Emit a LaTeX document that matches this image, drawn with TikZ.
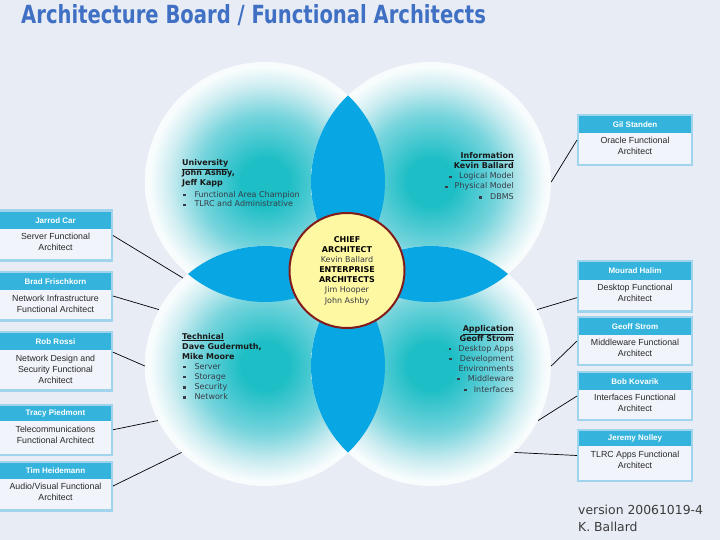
\documentclass[tikz,border=0pt]{standalone}
\usepackage{fontspec}
\setmainfont{DejaVu Sans}
\newfontfamily\boxfont{Liberation Sans}
\usepackage{graphicx}
\usetikzlibrary{calc}
\definecolor{bgcol}{RGB}{232,236,245}
\definecolor{titleblue}{RGB}{64,112,196}
\definecolor{petal}{RGB}{8,166,226}
\definecolor{circteal}{RGB}{30,190,198}
\definecolor{circmid}{RGB}{118,212,220}
\definecolor{circpale}{RGB}{205,237,241}
\definecolor{circedge}{RGB}{248,252,253}
\definecolor{headblue}{RGB}{52,180,220}
\definecolor{boxborder}{RGB}{160,212,236}
\definecolor{boxfill}{RGB}{241,244,250}
\definecolor{boxtextcol}{RGB}{40,40,40}
\definecolor{centerfill}{RGB}{255,248,162}
\definecolor{centerline}{RGB}{130,28,28}
\definecolor{circtext}{RGB}{55,60,70}
\definecolor{versioncol}{RGB}{60,60,60}
\pgfdeclareradialshading{circglow}{\pgfpoint{0bp}{0bp}}{color(0bp)=(circteal); color(5bp)=(circteal); color(14bp)=(circmid); color(20bp)=(circpale); color(24bp)=(circedge); color(25bp)=(circedge); color(50bp)=(circedge)}
\newcommand\sqb{\rule[0.6pt]{2.8pt}{2.8pt}}
\begin{document}
\begin{tikzpicture}[x=1pt,y=-1pt,
 ctext/.style={font=\fontsize{8}{10}\selectfont, inner sep=0pt, text=circtext},
 cname/.style={font=\fontsize{8}{10}\selectfont\bfseries, inner sep=0pt, text=black!90},
 bigcirc/.style={circle, minimum size=240pt, inner sep=0pt, shade, shading=circglow},
 boxframe/.style={rectangle, draw=boxborder, line width=2.4pt, fill=boxfill, inner sep=0pt},
 boxhead/.style={rectangle, fill=headblue, inner sep=0pt, text=white, font=\boxfont\fontsize{8}{10}\selectfont\bfseries},
 boxtext/.style={align=center, inner sep=0pt, text=boxtextcol, font=\boxfont\fontsize{8.8}{11}\selectfont},
 link/.style={draw=black, line width=0.7pt},
 lbox/.style={minimum width=112.6pt},
 lhead/.style={minimum width=110.2pt},
 rbox/.style={minimum width=113.6pt},
 rhead/.style={minimum width=111.2pt},
 vtext/.style={font=\fontsize{12.4}{15}\selectfont, inner sep=0pt, text=versioncol, anchor=base west}
]
\fill[bgcol] (0,0) rectangle (720,540);
\useasboundingbox (0,0) rectangle (720,540);

% title
\node[anchor=base west, inner sep=0pt, text=titleblue, font=\fontsize{25}{30}\selectfont\bfseries] (title) at (21,23.3) {\scalebox{0.783}[1]{Architecture Board / Functional Architects}};

% four circles
\node[bigcirc] (tl) at (265,182) {};
\node[bigcirc] (tr) at (431,182) {};
\node[bigcirc] (bl) at (265,366) {};
\node[bigcirc] (br) at (431,366) {};

% petals
\begin{scope}
 \clip (tl.center) circle[radius=120pt];
 \fill[petal] (tr.center) circle[radius=120pt];
\end{scope}
\begin{scope}
 \clip (tl.center) circle[radius=120pt];
 \fill[petal] (bl.center) circle[radius=120pt];
\end{scope}
\begin{scope}
 \clip (tr.center) circle[radius=120pt];
 \fill[petal] (br.center) circle[radius=120pt];
\end{scope}
\begin{scope}
 \clip (bl.center) circle[radius=120pt];
 \fill[petal] (br.center) circle[radius=120pt];
\end{scope}

% centre
\node[circle, minimum size=115pt, fill=centerfill, draw=centerline, line width=2pt, align=center, inner sep=0pt, font=\fontsize{8}{10.15}\selectfont, text=circtext] (chief) at (347,270.5)
 {\textcolor{black}{\textbf{CHIEF}}\\\textcolor{black}{\textbf{ARCHITECT}}\\Kevin Ballard\\\textcolor{black}{\textbf{ENTERPRISE}}\\\textcolor{black}{\textbf{ARCHITECTS}}\\Jim Hooper\\John Ashby};

% University
\node[cname, anchor=base west] (u1) at (182,166) {\underline{University}};
\node[cname, anchor=base west] (u2) at (182,176) {John Ashby,};
\node[cname, anchor=base west] (u3) at (182,186) {Jeff Kapp};
\node[ctext, anchor=base west] (u4) at (183,197) {\sqb\hspace{8.5pt}Functional Area Champion};
\node[ctext, anchor=base west] (u5) at (183,207) {\sqb\hspace{8.5pt}TLRC and Administrative};

% Information
\node[cname, anchor=base east] (i1) at (514,159) {\underline{Information}};
\node[cname, anchor=base east] (i2) at (514,169) {Kevin Ballard};
\node[ctext, anchor=base east] (i3) at (514,179) {\sqb\hspace{7pt}Logical Model};
\node[ctext, anchor=base east] (i4) at (514,189) {\sqb\hspace{7pt}Physical Model};
\node[ctext, anchor=base east] (i5) at (514,199.5) {\sqb\hspace{8pt}DBMS};

% Technical
\node[cname, anchor=base west] (t1) at (182,339) {\underline{Technical}};
\node[cname, anchor=base west] (t2) at (182,349) {Dave Gudermuth,};
\node[cname, anchor=base west] (t3) at (182,359) {Mike Moore};
\node[ctext, anchor=base west] (t4) at (183,369) {\sqb\hspace{8.5pt}Server};
\node[ctext, anchor=base west] (t5) at (183,379) {\sqb\hspace{8.5pt}Storage};
\node[ctext, anchor=base west] (t6) at (183,389.5) {\sqb\hspace{8.5pt}Security};
\node[ctext, anchor=base west] (t7) at (183,399.5) {\sqb\hspace{8.5pt}Network};

% Application
\node[cname, anchor=base east] (a1) at (514,331) {\underline{Application}};
\node[cname, anchor=base east] (a2) at (514,341) {Geoff Strom};
\node[ctext, anchor=base east] (a3) at (514,351) {\sqb\hspace{7pt}Desktop Apps};
\node[ctext, anchor=base east] (a4) at (514,361) {\sqb\hspace{8pt}Development};
\node[ctext, anchor=base east] (a5) at (514,371) {Environments};
\node[ctext, anchor=base east] (a6) at (514,381) {\sqb\hspace{8pt}Middleware};
\node[ctext, anchor=base east] (a7) at (514,392) {\sqb\hspace{7pt}Interfaces};

% left boxes
\node[boxframe, lbox, minimum height=49.6pt] (jarrod) at (55.5,235.5) {};
\node[boxhead, lhead, minimum height=17.1pt] (jarrodh) at (55.5,220.45) {Jarrod Car};
\node[boxtext, anchor=north] (jarrodt) at (55.5,232.6) {Server Functional\\Architect};

\node[boxframe, lbox, minimum height=48.6pt] (brad) at (55.5,296) {};
\node[boxhead, lhead, minimum height=17.1pt] (bradh) at (55.5,281.45) {Brad Frischkorn};
\node[boxtext, anchor=north] (bradt) at (55.5,294.6) {Network Infrastructure\\Functional Architect};

\node[boxframe, lbox, minimum height=58.1pt] (rob) at (55.5,361.25) {};
\node[boxhead, lhead, minimum height=16.6pt] (robh) at (55.5,341.7) {Rob Rossi};
\node[boxtext, anchor=north] (robt) at (55.5,354.6) {Network Design and\\Security Functional\\Architect};

\node[boxframe, lbox, minimum height=50.1pt] (tracy) at (55.5,429.75) {};
\node[boxhead, lhead, minimum height=15.1pt] (tracyh) at (55.5,413.45) {Tracy Piedmont};
\node[boxtext, anchor=north] (tracyt) at (55.5,425.6) {Telecommunications\\Functional Architect};

\node[boxframe, lbox, minimum height=48.6pt] (tim) at (55.5,486) {};
\node[boxhead, lhead, minimum height=16.1pt] (timh) at (55.5,470.95) {Tim Heidemann};
\node[boxtext, anchor=north] (timt) at (55.5,482.6) {Audio/Visual Functional\\Architect};

% right boxes
\node[boxframe, rbox, minimum height=49.6pt] (gil) at (635,140) {};
\node[boxhead, rhead, minimum height=16.6pt] (gilh) at (635,124.7) {Gil Standen};
\node[boxtext, anchor=north] (gilt) at (635,136.6) {Oracle Functional\\Architect};

\node[boxframe, rbox, minimum height=50.6pt] (mourad) at (635,286) {};
\node[boxhead, rhead, minimum height=18.1pt] (mouradh) at (635,270.95) {Mourad Halim};
\node[boxtext, anchor=north] (mouradt) at (635,283.6) {Desktop Functional\\Architect};

\node[boxframe, rbox, minimum height=47.6pt] (geoff) at (635,341) {};
\node[boxhead, rhead, minimum height=16.6pt] (geoffh) at (635,326.7) {Geoff Strom};
\node[boxtext, anchor=north] (geofft) at (635,338.6) {Middleware Functional\\Architect};

\node[boxframe, rbox, minimum height=47.6pt] (bob) at (635,396) {};
\node[boxhead, rhead, minimum height=16.6pt] (bobh) at (635,381.7) {Bob Kovarik};
\node[boxtext, anchor=north] (bobt) at (635,393.6) {Interfaces Functional\\Architect};

\node[boxframe, rbox, minimum height=50.6pt] (jeremy) at (635,455.5) {};
\node[boxhead, rhead, minimum height=14.6pt] (jeremyh) at (635,438.7) {Jeremy Nolley};
\node[boxtext, anchor=north] (jeremyt) at (635,451) {TLRC Apps Functional\\Architect};

% connectors
\draw[link] (jarrod.east) -- (bl.133);
\draw[link] (brad.east) -- (bl.152);
\draw[link] ($(rob.north east)!0.35!(rob.south east)$) -- (bl.180);
\draw[link] (tracy.east) -- (bl.207);
\draw[link] (tim.east) -- (bl.226);
\draw[link] (gil.west) -- (tr.0);
\draw[link] ($(mourad.north west)!0.72!(mourad.south west)$) -- (br.28);
\draw[link] (geoff.west) -- (br.0);
\draw[link] (bob.west) -- (br.333);
\draw[link] (jeremy.west) -- (br.314);

% version
\node[vtext] (ver1) at (578,514) {version 20061019-4};
\node[vtext] (ver2) at (578,531) {K. Ballard};
\end{tikzpicture}
\end{document}
